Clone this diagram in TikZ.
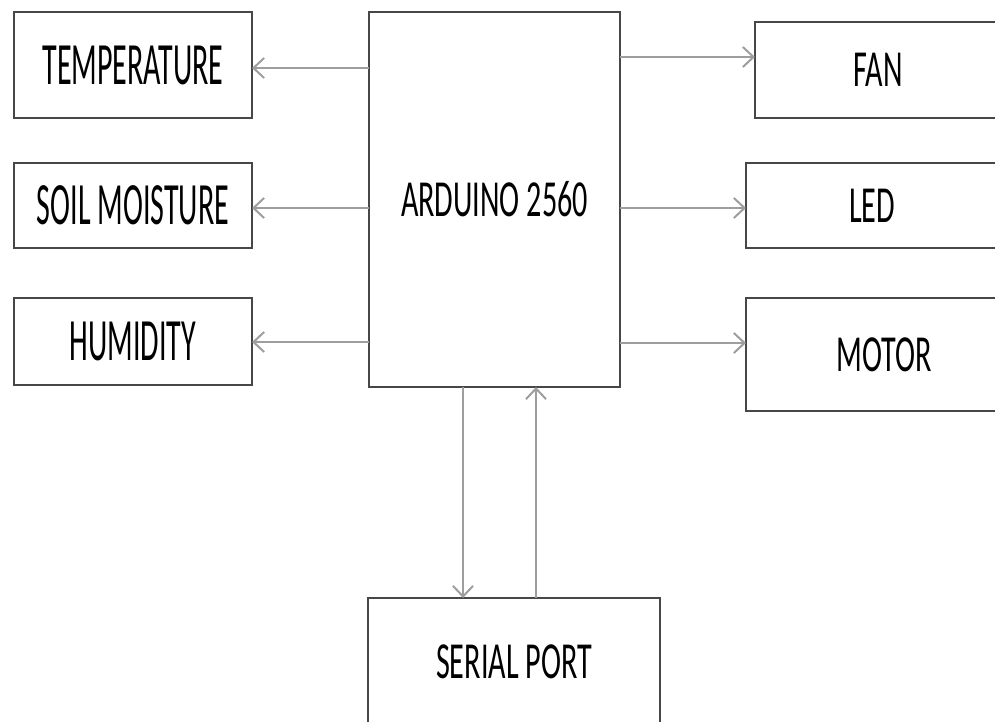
\documentclass[tikz,border=0pt]{standalone}
\usepackage{fontspec}
\usepackage{xcolor}
\usepackage{tikz}
\usetikzlibrary{arrows.meta}

\newfontfamily\sensorfont[FakeStretch=0.5]{Carlito}
\newfontfamily\blockfont[FakeStretch=0.58]{Carlito}

\begin{document}
\begin{tikzpicture}[
    x=0.75pt, y=-0.75pt,
    box/.style={
      rectangle, draw=black!72, line width=2.2pt,
      inner sep=0pt, outer sep=0pt, text centered, fill=white,
      font=\blockfont\fontsize{39}{40}\selectfont
    },
    sensor/.style={box, minimum width=178.5pt,
      font=\sensorfont\fontsize{45}{46}\selectfont},
    arrow/.style={-{Straight Barb[length=8pt,width=15pt]},
      line width=1.5pt, color=black!38}
  ]
  \clip (0,0) rectangle (995,721);
  \fill[white] (0,0) rectangle (995,721);

  % Sensors (left column)
  \node[sensor, minimum height=79.5pt] (temp) at (133,65) {TEMPERATURE};
  \node[sensor, minimum height=63.75pt] (soil) at (133,205.5) {SOIL MOISTURE};
  \node[sensor, minimum height=65.25pt] (hum) at (133,341.5) {HUMIDITY};

  % Controller
  \node[box, minimum width=188.25pt, minimum height=281.25pt] (ard) at (494.5,199.5) {ARDUINO 2560};

  % Outputs (right column)
  \node[box, minimum width=184.5pt, minimum height=72pt] (fan) at (878,70) {FAN};
  \node[box, minimum width=189pt, minimum height=63.75pt] (led) at (872,205.5) {LED};
  \node[box, minimum width=207pt, minimum height=84.75pt] (motor) at (884,354.5) {MOTOR};

  % Serial link
  \node[box, minimum width=219pt, minimum height=96pt] (serial) at (514,662) {SERIAL PORT};

  % Arrows to the left
  \draw[arrow] (ard.west |- 0,68) -- (temp.east |- 0,68);
  \draw[arrow] (ard.west |- 0,208) -- (soil.east |- 0,208);
  \draw[arrow] (ard.west |- 0,342) -- (hum.east |- 0,342);

  % Arrows to the right
  \draw[arrow] (ard.east |- 0,57) -- (fan.west |- 0,57);
  \draw[arrow] (ard.east |- 0,208) -- (led.west |- 0,208);
  \draw[arrow] (ard.east |- 0,343) -- (motor.west |- 0,343);

  % Up and down
  \draw[arrow] (ard.south -| 463,0) -- (serial.north -| 463,0);
  \draw[arrow] (serial.north -| 536,0) -- (ard.south -| 536,0);

\end{tikzpicture}
\end{document}
